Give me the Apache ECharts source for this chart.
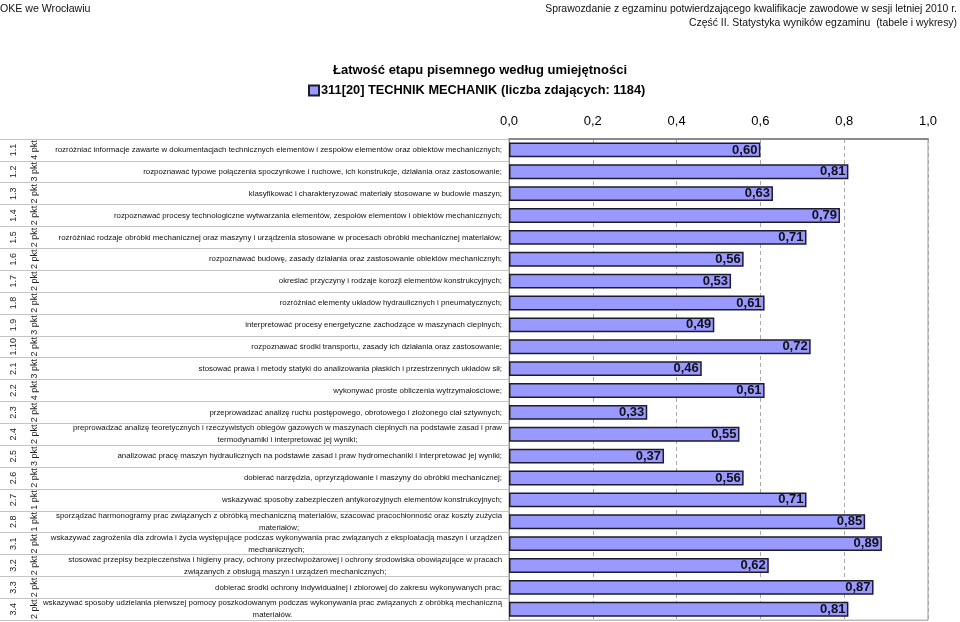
<!DOCTYPE html>
<html>
<head>
<meta charset="utf-8">
<script src="https://cdn.jsdelivr.net/npm/echarts@6/dist/echarts.min.js"></script>
<style>
html,body{margin:0;padding:0;background:#fff;}
#chart{width:960px;height:622px;}
</style>
</head>
<body>
<div id="chart"></div>
<script>
var codes = ['1.1','1.2','1.3','1.4','1.5','1.6','1.7','1.8','1.9','1.10','2.1','2.2','2.3','2.4','2.5','2.6','2.7','2.8','3.1','3.2','3.3','3.4'];
var points = ['4 pkt','3 pkt','2 pkt','2 pkt','2 pkt','2 pkt','2 pkt','2 pkt','3 pkt','2 pkt','3 pkt','4 pkt','2 pkt','2 pkt','3 pkt','2 pkt','1 pkt','1 pkt','2 pkt','2 pkt','2 pkt','2 pkt'];
var skills = [
 'rozróżniać informacje zawarte w dokumentacjach technicznych elementów i zespołów elementów oraz obiektów mechanicznych;',
 'rozpoznawać typowe połączenia spoczynkowe i ruchowe, ich konstrukcje, działania oraz zastosowanie;',
 'klasyfikować i charakteryzować materiały stosowane w budowie maszyn;',
 'rozpoznawać procesy technologiczne wytwarzania elementów, zespołów elementów i obiektów mechanicznych;',
 'rozróżniać rodzaje obróbki mechanicznej oraz maszyny i urządzenia stosowane w procesach obróbki mechanicznej materiałów;',
 'rozpoznawać budowę, zasady działania oraz zastosowanie obiektów mechanicznyh;',
 'określać przyczyny i rodzaje korozji elementów konstrukcyjnych;',
 'rozróżniać elementy układów hydraulicznych i pneumatycznych;',
 'interpretować procesy energetyczne zachodzące w maszynach cieplnych;',
 'rozpoznawać środki transportu, zasady ich działania oraz zastosowanie;',
 'stosować prawa i metody statyki do analizowania płaskich i przestrzennych układów sił;',
 'wykonywać proste obliczenia wytrzymałościowe;',
 'przeprowadzać analizę ruchu postępowego, obrotowego i złożonego ciał sztywnych;',
 'preprowadzać analizę teoretycznych i rzeczywistych obiegów gazowych w maszynach cieplnych na podstawie zasad i praw\ntermodynamiki i interpretować jej wyniki;',
 'analizować pracę maszyn hydraulicznych na podstawie zasad i praw hydromechaniki i interpretować jej wyniki;',
 'dobierać narzędzia, oprzyrządowanie i maszyny do obróbki mechanicznej;',
 'wskazywać sposoby zabezpieczeń antykorozyjnych elementów konstrukcyjnych;',
 'sporządzać harmonogramy prac związanych z obróbką mechaniczną materiałów, szacować pracochłonność oraz koszty zużycia\nmateriałów;',
 'wskazywać zagrożenia dla zdrowia i życia występujące podczas wykonywania prac związanych z eksploatacją maszyn i urządzeń\nmechanicznych;',
 'stosować przepisy bezpieczeństwa i higieny pracy, ochrony przeciwpożarowej i ochrony środowiska obowiązujące w pracach\nzwiązanych z obsługą maszyn i urządzeń mechanicznych;',
 'dobierać środki ochrony indywidualnej i zbiorowej do zakresu wykonywanych prac;',
 'wskazywać sposoby udzielania pierwszej pomocy poszkodowanym podczas wykonywania prac związanych z obróbką mechaniczną\nmateriałów.'
];
var values = [0.60,0.81,0.63,0.79,0.71,0.56,0.53,0.61,0.49,0.72,0.46,0.61,0.33,0.55,0.37,0.56,0.71,0.85,0.89,0.62,0.87,0.81];
var xTicks = {min: 0, max: 1, interval: 0.2};
var seriesName = '311[20] TECHNIK MECHANIK (liczba zdających: 1184)';
var chartTitle = 'Łatwość etapu pisemnego według umiejętności';
var headerLeft = 'OKE we Wrocławiu';
var headerRight1 = 'Sprawozdanie z egzaminu potwierdzającego kwalifikacje zawodowe w sesji letniej 2010 r.';
var headerRight2 = 'Część II. Statystyka wyników egzaminu  (tabele i wykresy)';

var FONT = '"Liberation Sans", Arial, Helvetica, sans-serif';
function comma(v, d){ return v.toFixed(d).replace('.', ','); }

var chart = echarts.init(document.getElementById('chart'), null, {renderer: 'canvas'});
chart.setOption({
  backgroundColor: '#fff',
  animation: false,
  title: [
    {text: headerLeft, left: 0, top: 4, padding: 0, textStyle: {fontFamily: FONT, fontSize: 10.6, fontWeight: 'normal', color: '#111'}},
    {text: headerRight1, right: 3, top: 4, padding: 0, textStyle: {fontFamily: FONT, fontSize: 10.4, fontWeight: 'normal', color: '#111'}},
    {text: headerRight2, right: 3, top: 18, padding: 0, textStyle: {fontFamily: FONT, fontSize: 10.4, fontWeight: 'normal', color: '#111'}},
    {text: chartTitle, left: 'center', top: 64, padding: 0, textStyle: {fontFamily: FONT, fontSize: 13, fontWeight: 'bold', color: '#000'}}
  ],
  legend: {
    data: [seriesName],
    left: 303, top: 79,
    itemWidth: 10, itemHeight: 10, itemGap: 4,
    icon: 'rect',
    textStyle: {fontFamily: FONT, fontSize: 12.8, fontWeight: 'bold', color: '#000', padding: [0,0,0,-3]}
  },
  grid: {left: 509, right: 32, top: 139, bottom: 1, show: true, borderColor: '#999', borderWidth: 1, containLabel: false},
  xAxis: {
    type: 'value', position: 'top',
    min: xTicks.min, max: xTicks.max, interval: xTicks.interval,
    axisLine: {show: true, lineStyle: {color: '#8a8a8a', width: 2}},
    axisTick: {show: false},
    axisLabel: {fontFamily: FONT, fontSize: 13, color: '#000', margin: 11, formatter: function(v){ return comma(v, 1); }},
    splitLine: {show: true, lineStyle: {color: '#aaa', type: [4, 3], width: 1}}
  },
  yAxis: [
    {
      type: 'category', inverse: true, data: skills, position: 'left',
      axisLine: {show: true, lineStyle: {color: '#8a8a8a', width: 1}},
      axisTick: {show: true, interval: 0, length: 509, lineStyle: {color: '#c4c4c4', width: 1}},
      axisLabel: {
        interval: 0, margin: 7, fontFamily: FONT, fontSize: 7.85, color: '#111', lineHeight: 12, align: 'right',
        formatter: function(v){
          var lines = v.split('\n');
          if (lines.length > 1) return lines.map(function(l){ return '{c|' + l + '}'; }).join('\n');
          return v;
        },
        rich: {c: {align: 'center', fontFamily: FONT, fontSize: 7.85, lineHeight: 12, color: '#111'}}
      },
      splitLine: {show: false}
    },
    {
      type: 'category', inverse: true, data: codes, position: 'left', offset: 495,
      axisLine: {show: false}, axisTick: {show: false}, splitLine: {show: false},
      axisLabel: {interval: 0, margin: 0, rotate: 90, align: 'center', verticalAlign: 'middle', fontFamily: FONT, fontSize: 9, color: '#222'}
    },
    {
      type: 'category', inverse: true, data: points, position: 'left', offset: 474,
      axisLine: {show: false}, axisTick: {show: false}, splitLine: {show: false},
      axisLabel: {interval: 0, margin: 0, rotate: 90, align: 'center', verticalAlign: 'middle', fontFamily: FONT, fontSize: 9, color: '#222'}
    }
  ],
  series: [{
    name: seriesName,
    type: 'bar',
    yAxisIndex: 0,
    data: values,
    barCategoryGap: '32%',
    itemStyle: {color: '#9999ff', borderColor: '#1c1c2e', borderWidth: 1.5},
    label: {
      show: true, position: 'insideRight', distance: 3,
      fontFamily: FONT, fontSize: 13, fontWeight: 'bold', color: '#111',
      formatter: function(p){ return comma(p.value, 2); }
    }
  }]
});
</script>
</body>
</html>
